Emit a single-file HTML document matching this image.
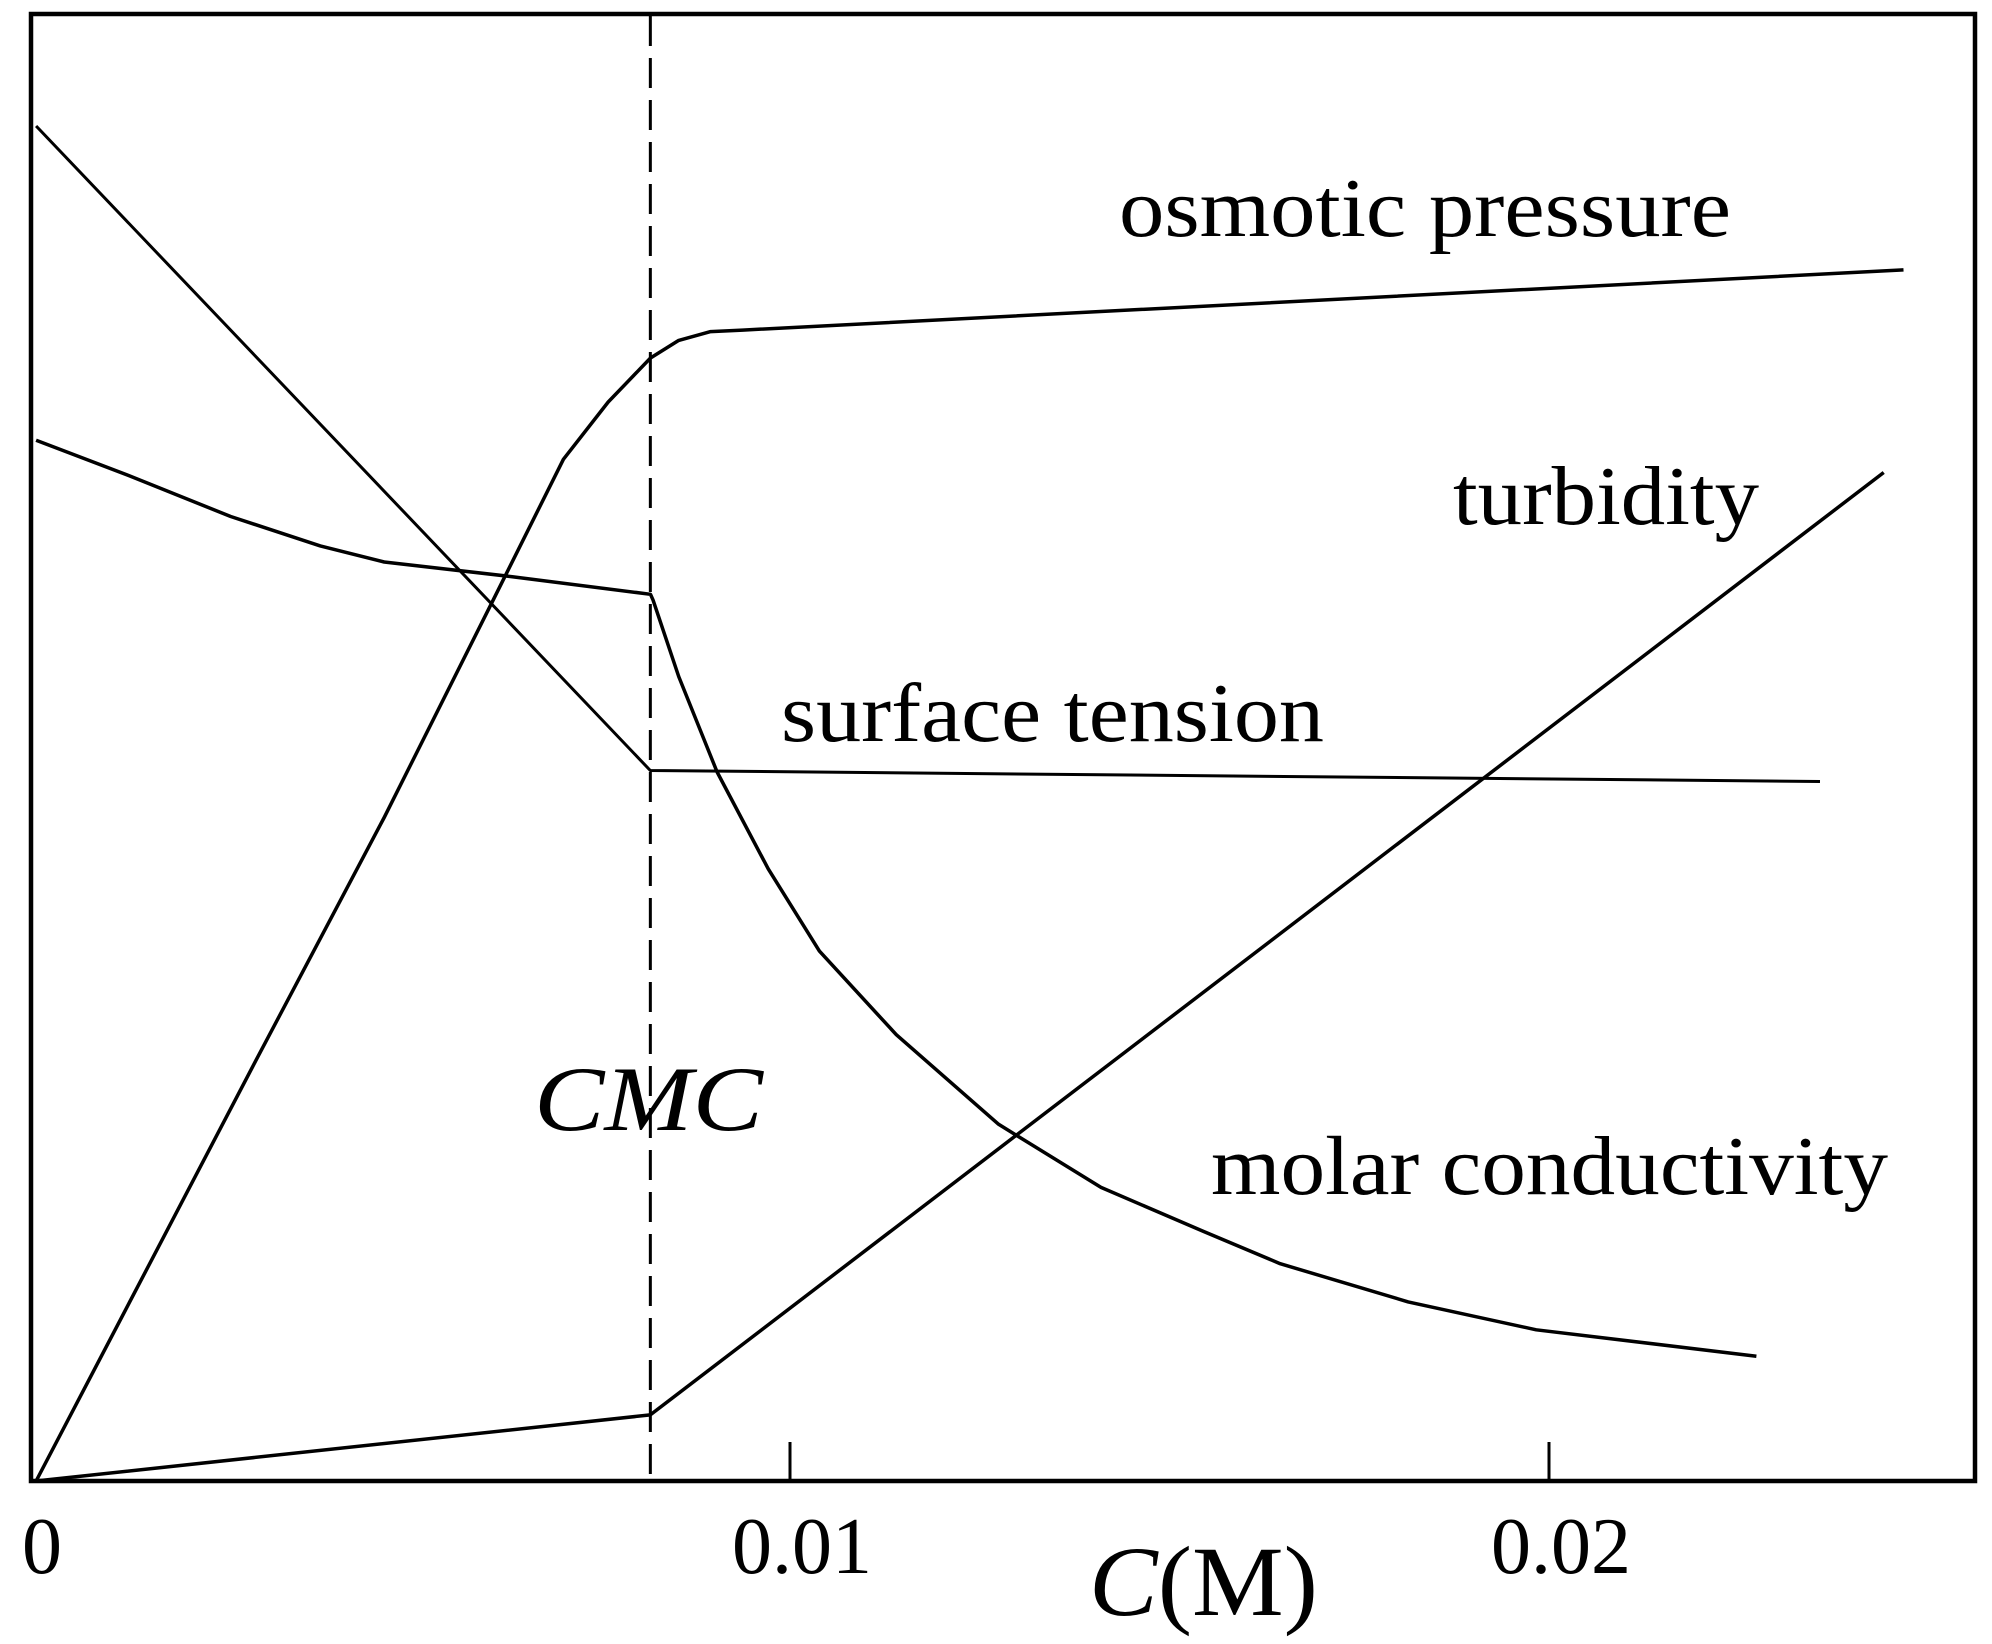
<!DOCTYPE html>
<html><head><meta charset="utf-8"><style>
html,body{margin:0;padding:0;background:#fff;}
svg{display:block;}
text{font-family:"Liberation Serif",serif;fill:#000;}
</style></head><body>
<svg id="chart" width="1992" height="1644" viewBox="0 0 1992 1644" xmlns="http://www.w3.org/2000/svg">
<rect x="31" y="14" width="1944" height="1467" fill="none" stroke="#000" stroke-width="4.5"/>
<g id="marks"></g>
<text x="1119" y="236" font-size="84" textLength="612" lengthAdjust="spacingAndGlyphs">osmotic pressure</text>
<text x="1453" y="524" font-size="84" textLength="306" lengthAdjust="spacingAndGlyphs">turbidity</text>
<text x="781" y="741" font-size="84" textLength="543" lengthAdjust="spacingAndGlyphs">surface tension</text>
<text x="1211" y="1194" font-size="84" textLength="677" lengthAdjust="spacingAndGlyphs">molar conductivity</text>
<text x="534" y="1130" font-size="92" font-style="italic" textLength="229" lengthAdjust="spacingAndGlyphs">CMC</text>
<text x="1089" y="1615" font-size="100" textLength="229" lengthAdjust="spacingAndGlyphs"><tspan font-style="italic">C</tspan>(M)</text>
</svg>
<script>
const xTicks = [0, 0.01, 0.02];
const xTickLabels = ["0", "0.01", "0.02"];
const cmcValue = 0.00816;
const osmoticC = [0.000067, 0.002968, 0.004654, 0.006088, 0.007015, 0.007605, 0.008162, 0.008533, 0.008954, 0.009376, 0.02467];
const osmoticV = [0, 28.7, 45.2, 60, 69.6, 73.5, 76.5, 77.7, 78.3, 78.4, 82.5];
const surfaceC = [0.000067, 0.00816, 0.02357];
const surfaceV = [92.3, 48.4, 47.65];
const molarC = [0.000067, 0.001282, 0.002631, 0.003811, 0.004654, 0.006341, 0.008162, 0.008196, 0.008533, 0.009039, 0.009713, 0.010388, 0.0114, 0.012749, 0.014098, 0.015447, 0.016459, 0.018145, 0.019831, 0.022732];
const molarV = [70.9, 68.5, 65.7, 63.7, 62.6, 61.6, 60.4, 60, 54.8, 48.3, 41.7, 36.1, 30.4, 24.3, 20, 17, 14.8, 12.2, 10.3, 8.5];
const turbidityC = [0.000067, 0.00816, 0.02441];
const turbidityV = [0, 4.5, 68.7];

const NS = "http://www.w3.org/2000/svg";
const X0 = 31, XS = 75900, Y0 = 1481, YS = 14.68;
function xs(c){ return X0 + c * XS; }
function ys(v){ return Y0 - v * YS; }
const g = document.getElementById('marks');
function line(cs, vs, name, w){
  const p = document.createElementNS(NS, 'polyline');
  p.setAttribute('points', cs.map((c,i)=>xs(c).toFixed(1)+','+ys(vs[i]).toFixed(1)).join(' '));
  p.setAttribute('fill','none');
  p.setAttribute('stroke','#000');
  p.setAttribute('stroke-width', w);
  p.setAttribute('stroke-linejoin','round');
  
  
  g.appendChild(p);
}
line(osmoticC, osmoticV, 'osmotic-pressure-line', 3.5);
line(surfaceC, surfaceV, 'surface-tension-line', 3);
line(molarC, molarV, 'molar-conductivity-line', 3.5);
line(turbidityC, turbidityV, 'turbidity-line', 3.5);

const d = document.createElementNS(NS, 'line');
d.setAttribute('x1', xs(cmcValue)); d.setAttribute('x2', xs(cmcValue));
d.setAttribute('y1', 16); d.setAttribute('y2', 1481);
d.setAttribute('stroke','#000'); d.setAttribute('stroke-width', 3);
d.setAttribute('stroke-dasharray','30 12');


g.appendChild(d);

xTicks.forEach((t,i)=>{
  if (i > 0) {
    const tk = document.createElementNS(NS, 'line');
    tk.setAttribute('x1', xs(t)); tk.setAttribute('x2', xs(t));
    tk.setAttribute('y1', 1442); tk.setAttribute('y2', 1481);
    tk.setAttribute('stroke','#000'); tk.setAttribute('stroke-width', 3);
    
    
    g.appendChild(tk);
  }
  const tx = document.createElementNS(NS, 'text');
  tx.setAttribute('x', xs(t) + (i === 0 ? 11 : 12));
  tx.setAttribute('y', 1573);
  tx.setAttribute('font-size', 80);
  tx.setAttribute('text-anchor', 'middle');
  tx.textContent = xTickLabels[i];
  
  
  document.getElementById('chart').appendChild(tx);
});
</script>
</body></html>
